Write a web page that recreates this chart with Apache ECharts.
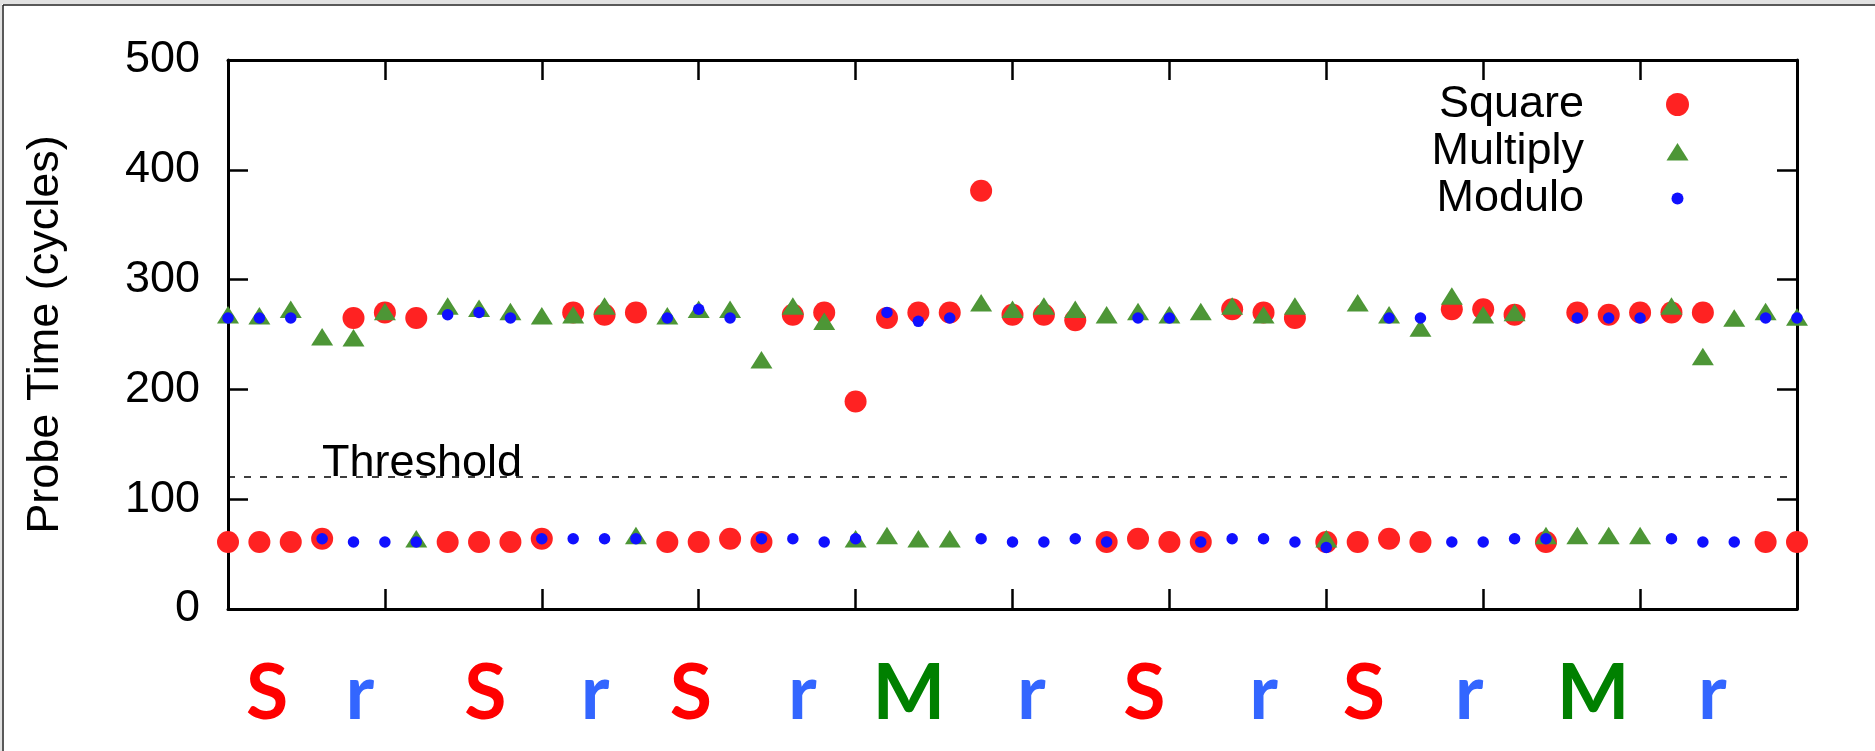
<!DOCTYPE html>
<html>
<head>
<meta charset="utf-8">
<script src="https://cdn.jsdelivr.net/npm/echarts@6/dist/echarts.min.js"></script>
<style>
html,body{margin:0;padding:0;background:#fff;}
#chart{width:1875px;height:751px;}
</style>
</head>
<body>
<div id="chart"></div>
<script>
// ---------- data ----------
const xValues = [0,2,4,6,8,10,12,14,16,18,20,22,24,26,28,30,32,34,36,38,40,42,44,46,48,50,
                 52,54,56,58,60,62,64,66,68,70,72,74,76,78,80,82,84,86,88,90,92,94,96,98,100];
const squareValues = [61,61,61,64,265,270,265,61,61,61,64,270,268,270,61,61,64,61,268,270,189,265,270,270,381,268,
                      268,263,61,64,61,61,273,270,265,61,61,64,61,273,273,268,61,270,268,270,270,270,null,61,61];
const multiplyValues = [268,267,273,248,247,271,64,276,274,271,267,268,276,67,267,273,273,227,276,262,64,67,64,64,279,273,
                        276,273,268,271,268,271,276,268,276,64,279,268,256,285,268,270,67,67,67,67,276,230,265,271,266];
const moduloValues = [265,265,265,64,61,61,61,268,270,265,64,64,64,64,265,273,265,64,64,61,64,270,262,265,64,61,
                      61,64,61,265,265,61,64,64,61,56,null,265,265,61,61,64,64,265,265,265,64,61,61,265,265];
const thresholdValue = 120;
const yTicks = [0,100,200,300,400,500];
const letters = ['S','r','S','r','S','r','M','r','S','r','S','r','M','r'];
const letterX = [2.5,8.4,16.4,23.4,29.5,36.6,43.4,51.2,58.4,66.0,72.4,79.1,87.0,94.6];
const seriesNames = ['Square','Multiply','Modulo'];

// ---------- styles ----------
const RED = '#ff2222', GREEN = '#4d9636', BLUE = '#1010ff';
const letterColor = {S:'#ff0000', r:'#3366ff', M:'#008000'};
const FONT = 'Liberation Sans';
const LEFT = 228, RIGHT = 78, TOP = 60, BOTTOM = 142;
const LETTER_LEVEL = 0.435;

function pairs(vals){
  const out = [];
  vals.forEach((v,i)=>{ if(v!==null) out.push([xValues[i], v]); });
  return out;
}

const chart = echarts.init(document.getElementById('chart'), null, {renderer:'canvas'});

function axLine(){ return {show:true, onZero:false, lineStyle:{color:'#000', width:3}}; }
function axTick(){ return {show:true, inside:true, length:20, lineStyle:{color:'#000', width:2.5}}; }

const option = {
  animation:false,
  backgroundColor:'#fff',
  grid:[
    {left:LEFT, right:RIGHT, top:TOP, bottom:BOTTOM, containLabel:false},
    {left:LEFT, right:RIGHT, top:620, bottom:0, containLabel:false}
  ],
  xAxis:[
    {type:'value', gridIndex:0, min:0, max:100, interval:10, position:'bottom',
     axisLine:axLine(), axisTick:axTick(), axisLabel:{show:false}, splitLine:{show:false}},
    {type:'value', gridIndex:0, min:0, max:100, interval:10, position:'top',
     axisLine:axLine(), axisTick:axTick(), axisLabel:{show:false}, splitLine:{show:false}},
    {type:'value', gridIndex:1, min:0, max:100, show:false}
  ],
  yAxis:[
    {type:'value', gridIndex:0, min:yTicks[0], max:yTicks[yTicks.length-1], interval:100, position:'left',
     name:'Probe Time (cycles)', nameLocation:'middle', nameGap:160,
     nameTextStyle:{fontSize:45, fontFamily:FONT, color:'#000'},
     axisLine:axLine(), axisTick:axTick(),
     axisLabel:{fontSize:45, fontFamily:FONT, color:'#000', margin:28},
     splitLine:{show:false}},
    {type:'value', gridIndex:0, min:0, max:500, interval:100, position:'right',
     axisLine:axLine(), axisTick:axTick(), axisLabel:{show:false}, splitLine:{show:false}},
    {type:'value', gridIndex:1, min:0, max:1, show:false}
  ],
  legend:{
    orient:'vertical', right:186, top:82, align:'right', padding:0,
    itemWidth:23, itemHeight:23, itemGap:2,
    textStyle:{fontSize:45, fontFamily:FONT, color:'#000', lineHeight:40, padding:[0,77,0,0]},
    data:[
      {name:seriesNames[0], icon:'circle'},
      {name:seriesNames[1], icon:'path://M0,0L0,0M23,23L23,23M11.5,3L22.5,20.5L0.5,20.5Z'},
      {name:seriesNames[2], icon:'path://M0,0L0,0M23,23L23,23M5.5,11.5A6,6 0 1 1 17.5,11.5A6,6 0 1 1 5.5,11.5Z'}
    ]
  },
  series:[
    {name:seriesNames[0], type:'scatter', xAxisIndex:0, yAxisIndex:0,
     symbol:'circle', symbolSize:22, itemStyle:{color:RED, opacity:1},
     data:pairs(squareValues),
     markLine:{silent:true, symbol:['none','none'],
       lineStyle:{color:'#000', type:[7,9], width:1.6},
       label:{show:true, position:'insideStartTop', formatter:'Threshold',
              fontSize:45, fontFamily:FONT, color:'#000', distance:[94,-9]},
       emphasis:{disabled:true},
       data:[{yAxis:thresholdValue}]}
    },
    {name:seriesNames[1], type:'scatter', xAxisIndex:0, yAxisIndex:0,
     symbol:'triangle', symbolSize:[22,17.5], itemStyle:{color:GREEN, opacity:1},
     data:pairs(multiplyValues)},
    {name:seriesNames[2], type:'scatter', xAxisIndex:0, yAxisIndex:0,
     symbol:'circle', symbolSize:11.5, itemStyle:{color:BLUE, opacity:1},
     data:pairs(moduloValues)},
    {name:'letters', type:'scatter', xAxisIndex:2, yAxisIndex:2, silent:true,
     symbolSize:0, itemStyle:{opacity:1},
     data:letters.map((l,i)=>({value:[letterX[i], LETTER_LEVEL],
        label:{color:letterColor[l]}})),
     label:{show:true, position:'inside', fontSize:77, fontWeight:'bold', fontFamily:'Lato', opacity:1,
            formatter:p=>letters[p.dataIndex]}
    }
  ],
  graphic:[
    {type:'rect', shape:{x:0,y:0,width:1875,height:4}, style:{fill:'#e2e2e2'}, silent:true, z:-10},
    {type:'rect', shape:{x:0,y:0,width:2,height:751}, style:{fill:'#e2e2e2'}, silent:true, z:-10},
    {type:'line', shape:{x1:3,y1:5,x2:1875,y2:5}, style:{stroke:'#222', lineWidth:1.5}, silent:true},
    {type:'line', shape:{x1:3,y1:5,x2:3,y2:751}, style:{stroke:'#222', lineWidth:1.5}, silent:true}
  ]
};
chart.setOption(option);
</script>
</body>
</html>
